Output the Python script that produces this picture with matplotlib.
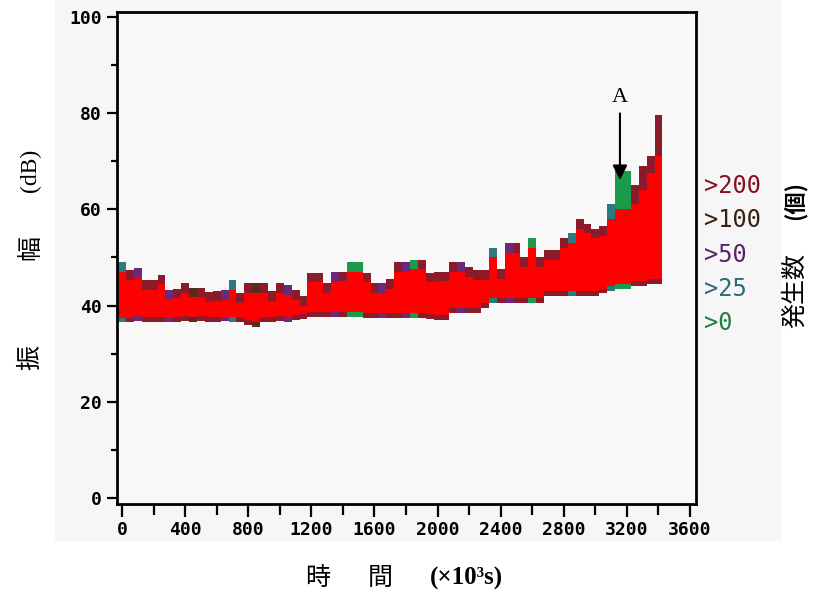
import matplotlib
matplotlib.use("Agg")
import numpy as np
from matplotlib import pyplot as plt
from matplotlib.patches import Rectangle

# time bins (x10^3 s) and amplitude envelope (dB)
time = [0, 50, 100, 150, 200, 250, 300, 350, 400, 450,
        500, 550, 600, 650, 700, 750, 800, 850, 900, 950,
        1000, 1050, 1100, 1150, 1200, 1250, 1300, 1350, 1400, 1450,
        1500, 1550, 1600, 1650, 1700, 1750, 1800, 1850, 1900, 1950,
        2000, 2050, 2100, 2150, 2200, 2250, 2300, 2350, 2400, 2450,
        2500, 2550, 2600, 2650, 2700, 2750, 2800, 2850, 2900, 2950,
        3000, 3050, 3100, 3150, 3200, 3250, 3300, 3350, 3400]
amp_max = [49, 47.4, 47.8, 45.3, 45.3, 46.4, 43.2, 43.5, 44.7, 43.7,
           43.7, 42.8, 43.0, 43.2, 45.3, 42.6, 44.7, 44.7, 44.7, 43.0,
           44.7, 44.2, 43.2, 42.0, 46.8, 46.8, 44.7, 47.0, 47.0, 49.0,
           49.0, 46.8, 44.7, 44.7, 45.5, 49.0, 49.0, 49.5, 49.5, 46.8,
           47.0, 47.0, 49.0, 49.0, 48.0, 47.4, 47.4, 52.0, 47.5, 53.0,
           53.0, 50.0, 54.0, 50.0, 51.5, 51.5, 54.0, 55.0, 58.0, 57.0,
           56.0, 56.5, 61.0, 68.0, 68.0, 65.0, 69.0, 71.0, 79.6]
amp_min = [36.5, 36.5, 36.8, 36.6, 36.6, 36.6, 36.6, 36.6, 36.8, 36.6,
           36.8, 36.6, 36.6, 36.7, 36.6, 36.6, 36.0, 35.5, 36.6, 36.6,
           36.8, 36.6, 37.0, 37.2, 37.6, 37.6, 37.6, 37.6, 37.6, 37.6,
           37.6, 37.4, 37.4, 37.4, 37.4, 37.4, 37.4, 37.4, 37.4, 37.2,
           37.0, 37.0, 38.5, 38.5, 38.5, 38.5, 39.5, 40.5, 40.5, 40.5,
           40.5, 40.5, 40.5, 40.5, 42.0, 42.0, 42.0, 42.0, 42.0, 42.0,
           42.0, 42.5, 43.0, 43.5, 43.5, 44.0, 44.0, 44.5, 44.5]
# count class of the outer (sparse) hits on top of each column
edge_cls = ["t", "d", "p", "d", "d", "d", "p", "d", "d", "b",
            "d", "d", "d", "p", "t", "d", "d", "b", "d", "d",
            "d", "p", "d", "d", "d", "d", "d", "p", "d", "g",
            "g", "d", "d", "p", "d", "d", "p", "g", "d", "d",
            "d", "d", "d", "p", "d", "d", "d", "t", "d", "p",
            "d", "d", "g", "d", "d", "d", "d", "t", "d", "d",
            "d", "d", "t", "g", "g", "d", "d", "d", "d"]
legend_labels = [">200", ">100", ">50", ">25", ">0"]

cls_colors = {"d": "#8b1a2a", "b": "#5a2a1a", "p": "#6a2a7a", "t": "#2a7a80", "g": "#1a9a4a"}
legend_colors = ["#8a1020", "#3a2010", "#602070", "#306878", "#208040"]
core_red = "#ff0000"
# thicker sparse fringe near the end of the test
edge_depth = {62: 3.0, 63: 8.0, 64: 8.0, 65: 4.0, 66: 5.0, 67: 3.5, 68: 8.6}

fig = plt.figure(figsize=(8.17, 5.99), dpi=100)
fig.patches.append(Rectangle((55 / 817, 1 - 540 / 599), 725 / 817, 540 / 599,
                             transform=fig.transFigure, color="#f6f6f6", zorder=-10))
ax = fig.add_axes([117 / 817, 1 - 504 / 599, 579 / 817, 492 / 599])
ax.set_facecolor("#f8f8f8")

lo = np.array(amp_min)
hi = np.array(amp_max)
ax.bar(time, hi - lo, bottom=lo, width=50, color=[cls_colors[c] for c in edge_cls],
       linewidth=0, align="center")
depth = np.array([edge_depth.get(i, 2.0) for i in range(len(time))])
ax.bar(time, (hi - depth) - (lo + 1.0), bottom=lo + 1.0, width=50, color=core_red,
       linewidth=0, align="center")

ax.set_xlim(-32, 3638)
ax.set_ylim(-1.25, 101.0)
ax.set_xticks(np.arange(0, 3601, 400))
ax.set_xticks(np.arange(0, 3601, 200), minor=True)
ax.set_yticks(np.arange(0, 101, 20))
ax.set_yticks(np.arange(0, 101, 10), minor=True)
for s in ax.spines.values():
    s.set_linewidth(2.0)
ax.tick_params(axis="x", which="major", length=9, width=1.6, pad=3)
ax.tick_params(axis="x", which="minor", length=8, width=1.6)
ax.tick_params(axis="y", which="major", length=7, width=1.6, pad=4)
ax.tick_params(axis="y", which="minor", length=4, width=1.6)
for lab in ax.get_xticklabels() + ax.get_yticklabels():
    lab.set_fontfamily("DejaVu Sans Mono")
    lab.set_fontweight("bold")
    lab.set_fontsize(13)

# annotation A
ax.annotate("", xy=(3156, 65.5), xytext=(3156, 80.5),
            arrowprops=dict(arrowstyle="-|>", color="black", lw=1.5, mutation_scale=22))
ax.text(3156, 81.3, "A", ha="center", va="bottom", fontsize=16, family="Liberation Serif")

# count legend on the right
for i, (lab, col) in enumerate(zip(legend_labels, legend_colors)):
    fig.text(704 / 817, 1 - (186 + 34.3 * i) / 599, lab, color=col, ha="left", va="center",
             fontsize=17, family="DejaVu Sans Mono")

jp = ["Noto Sans CJK JP", "DejaVu Sans"]
# y label
fig.text(30 / 817, 1 - 357 / 599, "振", rotation=90, ha="center", va="center", fontsize=18, family=jp)
fig.text(30 / 817, 1 - 247 / 599, "幅", rotation=90, ha="center", va="center", fontsize=18, family=jp)
fig.text(30 / 817, 1 - 170 / 599, "(dB)", rotation=90, ha="center", va="center", fontsize=17,
         family="Liberation Serif")
# right label
fig.text(795 / 817, 1 - 290 / 599, "発生数", rotation=90, ha="center", va="center", fontsize=18, family=jp)
fig.text(795 / 817, 1 - 200 / 599, "(個)", rotation=90, ha="center", va="center", fontsize=16,
         family=jp, fontweight="bold")
# x label
fig.text(318 / 817, 1 - 578 / 599, "時", ha="center", va="center", fontsize=18, family=jp)
fig.text(380 / 817, 1 - 578 / 599, "間", ha="center", va="center", fontsize=18, family=jp)
fig.text(466 / 817, 1 - 578 / 599, "(×10³s)", ha="center", va="center", fontsize=18,
         family="Liberation Serif", fontweight="bold")

plt.savefig("out.png", dpi=100)
plt.close()
